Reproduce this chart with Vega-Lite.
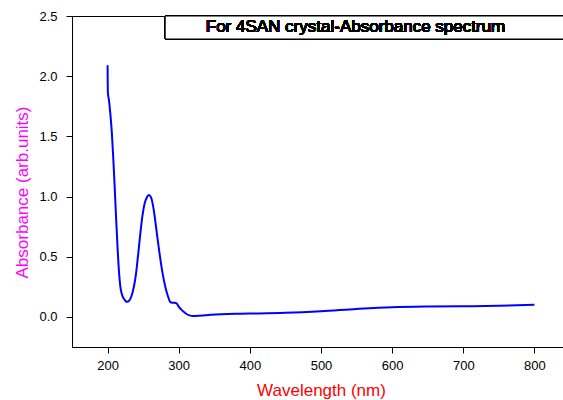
{
  "$schema": "https://vega.github.io/schema/vega-lite/v6.json",
  "width": 498,
  "height": 331,
  "autosize": {"type": "none"},
  "padding": {"left": 72, "top": 16, "right": 0, "bottom": 53},
  "background": "white",
  "config": {
    "view": {"stroke": "black", "strokeWidth": 1},
    "axis": {
      "grid": false,
      "domainColor": "black",
      "domainWidth": 1,
      "tickColor": "black",
      "tickWidth": 1,
      "tickSize": 6,
      "labelColor": "black",
      "labelFont": "Liberation Sans",
      "labelFontSize": 13,
      "titleFont": "Liberation Sans",
      "titleFontSize": 17,
      "titleFontWeight": "normal",
      "labelFlush": false,
      "labelOverlap": false,
      "labelBound": false
    }
  },
  "data": {
    "values": [
      {"wl": 200, "abs": 2.09},
      {"wl": 200.2, "abs": 1.95},
      {"wl": 200.5, "abs": 1.86},
      {"wl": 202, "abs": 1.8},
      {"wl": 204, "abs": 1.68},
      {"wl": 206, "abs": 1.53},
      {"wl": 208, "abs": 1.32},
      {"wl": 210, "abs": 1.08},
      {"wl": 212, "abs": 0.82},
      {"wl": 214, "abs": 0.58},
      {"wl": 216, "abs": 0.38},
      {"wl": 218, "abs": 0.25},
      {"wl": 220, "abs": 0.19},
      {"wl": 223, "abs": 0.15},
      {"wl": 226, "abs": 0.128},
      {"wl": 228, "abs": 0.125},
      {"wl": 231, "abs": 0.14},
      {"wl": 234, "abs": 0.18},
      {"wl": 237, "abs": 0.25},
      {"wl": 240, "abs": 0.36},
      {"wl": 243, "abs": 0.52},
      {"wl": 246, "abs": 0.69},
      {"wl": 249, "abs": 0.84},
      {"wl": 252, "abs": 0.94},
      {"wl": 255, "abs": 0.99},
      {"wl": 258, "abs": 1.012},
      {"wl": 261, "abs": 0.995},
      {"wl": 264, "abs": 0.92},
      {"wl": 267, "abs": 0.8},
      {"wl": 270, "abs": 0.66},
      {"wl": 273, "abs": 0.53},
      {"wl": 276, "abs": 0.41},
      {"wl": 279, "abs": 0.31},
      {"wl": 282, "abs": 0.23},
      {"wl": 285, "abs": 0.17},
      {"wl": 288, "abs": 0.125},
      {"wl": 291, "abs": 0.118},
      {"wl": 294, "abs": 0.117},
      {"wl": 297, "abs": 0.112},
      {"wl": 300, "abs": 0.085},
      {"wl": 303, "abs": 0.065},
      {"wl": 307, "abs": 0.042},
      {"wl": 311, "abs": 0.024},
      {"wl": 315, "abs": 0.013},
      {"wl": 320, "abs": 0.007},
      {"wl": 330, "abs": 0.01},
      {"wl": 345, "abs": 0.017},
      {"wl": 360, "abs": 0.022},
      {"wl": 380, "abs": 0.026},
      {"wl": 400, "abs": 0.028},
      {"wl": 450, "abs": 0.034},
      {"wl": 500, "abs": 0.047},
      {"wl": 550, "abs": 0.066},
      {"wl": 600, "abs": 0.081},
      {"wl": 650, "abs": 0.087},
      {"wl": 700, "abs": 0.089},
      {"wl": 750, "abs": 0.092},
      {"wl": 800, "abs": 0.1}
    ]
  },
  "layer": [
    {
      "mark": {"type": "line", "color": "#0000FF", "strokeWidth": 2, "interpolate": "monotone"},
      "encoding": {
        "x": {
          "field": "wl",
          "type": "quantitative",
          "scale": {"domain": [150, 850], "nice": false, "zero": false},
          "axis": {
            "title": "Wavelength (nm)",
            "titleColor": "#FF0000",
            "titleBaseline": "top",
            "titleY": 35,
            "values": [200, 300, 400, 500, 600, 700, 800],
            "labelPadding": 6
          }
        },
        "y": {
          "field": "abs",
          "type": "quantitative",
          "scale": {"domain": [-0.25, 2.5], "nice": false, "zero": false},
          "axis": {
            "title": "Absorbance (arb.units)",
            "titleColor": "#FF00FF",
            "titleX": -41,
            "titleY": 176,
            "values": [0, 0.5, 1, 1.5, 2, 2.5],
            "format": ".1f",
            "labelPadding": 9
          }
        }
      }
    },
    {
      "mark": {"type": "rect", "fill": "white", "stroke": "black", "strokeWidth": 1},
      "encoding": {
        "x": {"datum": 281, "type": "quantitative"},
        "x2": {"datum": 841},
        "y": {"datum": 2.5, "type": "quantitative"},
        "y2": {"datum": 2.309}
      }
    },
    {
      "mark": {"type": "text", "align": "left", "baseline": "middle", "font": "Liberation Sans", "fontSize": 17, "color": "black"},
      "encoding": {
        "x": {"datum": 338, "type": "quantitative"},
        "y": {"datum": 2.407, "type": "quantitative"},
        "text": {"value": "For 4SAN crystal-Absorbance spectrum"}
      }
    }
  ]
}
